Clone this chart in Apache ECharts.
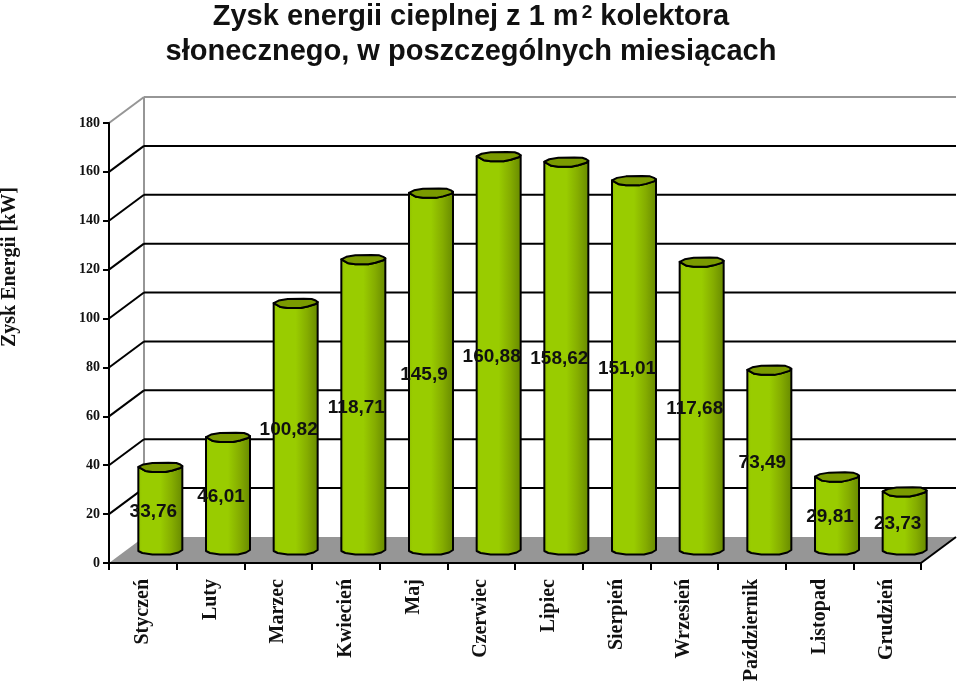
<!DOCTYPE html>
<html><head><meta charset="utf-8">
<style>html,body{margin:0;padding:0;background:#fff}#c{width:960px;height:686px}</style>
<script src="https://cdn.jsdelivr.net/npm/echarts@6/dist/echarts.min.js"></script>
</head><body><div id="c"></div>
<script>
const months = ['Styczeń','Luty','Marzec','Kwiecień','Maj','Czerwiec','Lipiec','Sierpień','Wrzesień','Październik','Listopad','Grudzień'];
const values = [33.76,46.01,100.82,118.71,145.9,160.88,158.62,151.01,117.68,73.49,29.81,23.73];
const valueLabels = ['33,76','46,01','100,82','118,71','145,9','160,88','158,62','151,01','117,68','73,49','29,81','23,73'];
const ticks = [0,20,40,60,80,100,120,140,160,180];

// oblique projection of the 3D box (style constants)
const DX = 35, DY = 26, MX = DX / 2, MY = DY / 2;
const LINE = '#000', WALL = '#969696';
const RIM_BACK = [[-22,-0.5],[-17,-3],[-8,-4.5],[8,-4.8],[16,-4.5],[20,-3],[22,-1.5]];
const RIM_FRONT = [[20,0.5],[12,3],[5,4.5],[-8,4.5],[-15,3.5]];
const BASE = [[-22,1],[-18,3],[-8,4.5],[10,4.5],[18,2.5],[22,0]];
const LABEL_DX = -7, LABEL_DY = 3;

const chart = echarts.init(document.getElementById('c'), null, {renderer:'canvas'});

function renderWall(params, api) {
  const v = api.value(1), cs = params.coordSys, y = api.coord([0, v])[1];
  const x0 = cs.x, x1 = cs.x + cs.width, kids = [];
  const col = v === ticks[ticks.length-1] ? WALL : LINE;
  if (v > 0) {
    kids.push({type:'line',shape:{x1:x0+DX,y1:y-DY,x2:x1+DX,y2:y-DY},style:{stroke:col,lineWidth:2}});
    kids.push({type:'line',shape:{x1:x0,y1:y,x2:x0+DX,y2:y-DY},style:{stroke:col,lineWidth:2}});
  } else {
    kids.push({type:'polygon',shape:{points:[[x0,y],[x1,y],[x1+DX,y-DY],[x0+DX,y-DY]]},style:{fill:WALL}});
    kids.push({type:'line',shape:{x1:x1,y1:y,x2:x1+DX,y2:y-DY},style:{stroke:LINE,lineWidth:2}});
    kids.push({type:'line',shape:{x1:x0+DX,y1:y-DY,x2:x0+DX,y2:cs.y-DY},style:{stroke:WALL,lineWidth:2}});
  }
  return {type:'group',children:kids};
}
function renderBar(params, api) {
  const i = api.value(0), t = api.coord([i, api.value(1)]), b = api.coord([i, 0]);
  const cx = t[0] + MX, ty = t[1] - MY, by = b[1] - MY;
  const at = (p, y) => [cx + p[0], y + p[1]];
  const last = RIM_BACK[RIM_BACK.length-1];
  const body = [at(RIM_BACK[0],ty)]
    .concat(BASE.map(p => at(p,by)))
    .concat([at(last,ty)])
    .concat(RIM_FRONT.map(p => at(p,ty)));
  const grad = new echarts.graphic.LinearGradient(0,0,1,0,[
    {offset:0,color:'#8fbd00'},{offset:.1,color:'#99cc00'},{offset:.5,color:'#99cc00'},
    {offset:.75,color:'#85ad00'},{offset:1,color:'#668800'}]);
  return {type:'group',children:[
    {type:'polygon',shape:{points:body},style:{fill:grad,stroke:LINE,lineWidth:2,lineJoin:'round'}},
    {type:'polygon',shape:{points:RIM_BACK.concat(RIM_FRONT).map(p=>at(p,ty))},style:{fill:'#7a9a00',stroke:LINE,lineWidth:2,lineJoin:'round'}}
  ]};
}
function renderLabel(params, api) {
  const i = api.value(0), t = api.coord([i, api.value(1)/2]);
  return {type:'text',style:{text:valueLabels[i],x:t[0]+MX+LABEL_DX,y:t[1]-MY+LABEL_DY,align:'center',verticalAlign:'middle',
    font:'bold 19px "Liberation Sans"',fill:'#111'}};
}
const titleFont = {fontFamily:'Liberation Sans',fontWeight:'bold',color:'#111',lineHeight:35,verticalAlign:'bottom'};
chart.setOption({
  animation:false,
  backgroundColor:'#fff',
  title:{left:466,top:-9,textAlign:'center',
    text:'{a|Zysk energii cieplnej z 1 m}{s|2}{a| kolektora}\n{a|słonecznego, w poszczególnych miesiącach}',
    textStyle:{rich:{
      a:Object.assign({fontSize:29},titleFont),
      s:Object.assign({fontSize:19,padding:[0,0,9,3]},titleFont)
    }}},
  grid:{left:109,right:39,top:123,bottom:123,containLabel:false},
  xAxis:{type:'category',data:months,z:5,
    axisLine:{lineStyle:{color:LINE,width:2}},
    axisTick:{show:true,alignWithLabel:false,length:7,lineStyle:{color:LINE,width:2}},
    axisLabel:{rotate:90,margin:16,interval:0,color:'#111',fontFamily:'Liberation Serif',fontWeight:'bold',fontSize:20},
    splitLine:{show:false}},
  yAxis:{type:'value',min:0,max:180,interval:20,z:5,
    axisLine:{show:true,lineStyle:{color:LINE,width:2}},
    axisTick:{show:true,length:6,lineStyle:{color:LINE,width:2}},
    axisLabel:{margin:9,color:'#111',fontFamily:'Liberation Serif',fontWeight:'bold',fontSize:14},
    splitLine:{show:false}},
  graphic:[{type:'text',rotation:Math.PI/2,x:10,y:267,z:10,
    style:{text:'Zysk Energii [kW]',align:'center',verticalAlign:'middle',font:'bold 20px "Liberation Serif"',fill:'#111'}}],
  series:[
    {type:'custom',z:1,clip:false,silent:true,renderItem:renderWall,data:ticks.map(v=>[0,v])},
    {type:'custom',z:3,clip:false,silent:true,renderItem:renderBar,data:values.map((v,i)=>[i,v])},
    {type:'custom',z:6,clip:false,silent:true,renderItem:renderLabel,data:values.map((v,i)=>[i,v])}
  ]
});
</script></body></html>
